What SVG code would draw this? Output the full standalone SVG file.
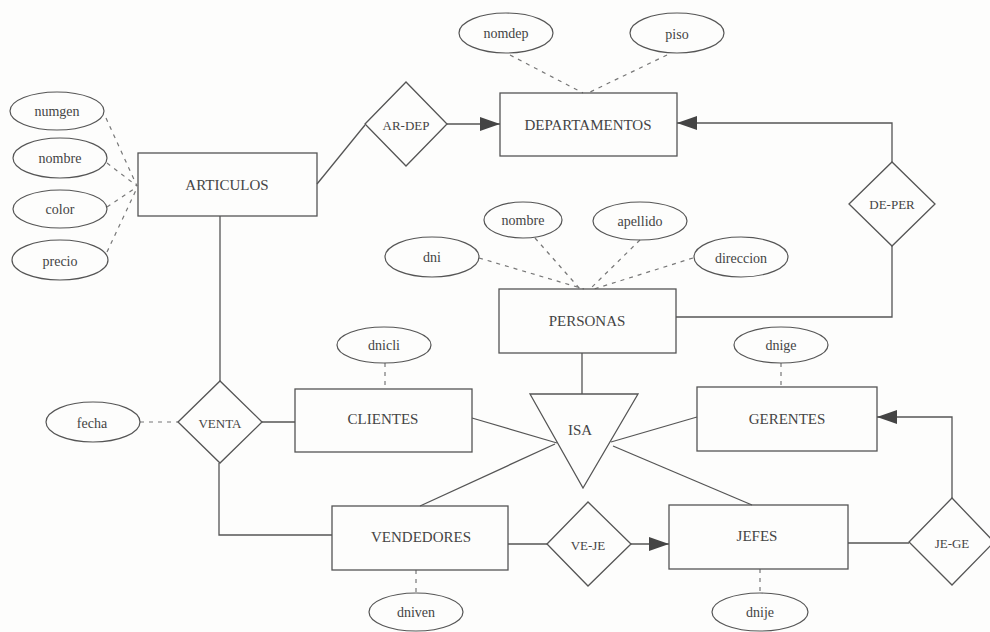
<svg xmlns="http://www.w3.org/2000/svg" width="990" height="632" viewBox="0 0 990 632">
<style>
.bg{fill:#fdfdfc}
.box{fill:none;stroke:#555;stroke-width:1.3}
.ell{fill:none;stroke:#555;stroke-width:1.2}
.ln{fill:none;stroke:#555;stroke-width:1.3}
.dash{fill:none;stroke:#777;stroke-width:1.2;stroke-dasharray:4 5}
text{font-family:"Liberation Serif","Times New Roman",serif;fill:#444;text-anchor:middle;dominant-baseline:central}
.bt{font-size:15px}
.et{font-size:14px}
.dt{font-size:13px}
</style>
<defs>
<marker id="arr" viewBox="0 0 20 14" refX="20" refY="7" markerWidth="20" markerHeight="14" markerUnits="userSpaceOnUse" orient="auto">
<path d="M0,0 L20,7 L0,14 z" fill="#444"/>
</marker>
</defs>
<rect class="bg" x="0" y="0" width="990" height="632"/>

<g id="connectors">
<line class="ln" x1="317" y1="184" x2="365" y2="125"/>
<line class="ln" x1="447" y1="124" x2="500" y2="124" marker-end="url(#arr)"/>
<polyline class="ln" points="892,162 892,123 677,123" marker-end="url(#arr)"/>
<polyline class="ln" points="676,317 892,317 892,246"/>
<line class="ln" x1="220" y1="216" x2="220" y2="381"/>
<line class="ln" x1="262" y1="422" x2="295" y2="422"/>
<polyline class="ln" points="219,463 219,535 332,535"/>
<line class="ln" x1="582" y1="353" x2="582" y2="394"/>
<line class="ln" x1="472" y1="418" x2="557" y2="443"/>
<line class="ln" x1="697" y1="417" x2="611" y2="442"/>
<line class="ln" x1="420" y1="506" x2="555" y2="444"/>
<line class="ln" x1="752" y1="505" x2="613" y2="446"/>
<line class="ln" x1="508" y1="544" x2="547" y2="544"/>
<line class="ln" x1="631" y1="544" x2="669" y2="544" marker-end="url(#arr)"/>
<line class="ln" x1="848" y1="543" x2="909" y2="543"/>
<polyline class="ln" points="952,498 952,417 877,417" marker-end="url(#arr)"/>
<line class="dash" x1="106" y1="118" x2="137" y2="186"/>
<line class="dash" x1="107" y1="163" x2="137" y2="186"/>
<line class="dash" x1="107" y1="207" x2="137" y2="187"/>
<line class="dash" x1="107" y1="252" x2="137" y2="188"/>
<line class="dash" x1="510" y1="55" x2="583" y2="93"/>
<line class="dash" x1="667" y1="55" x2="588" y2="93"/>
<line class="dash" x1="479" y1="258" x2="584" y2="289"/>
<line class="dash" x1="535" y1="238" x2="580" y2="289"/>
<line class="dash" x1="640" y1="240" x2="590" y2="289"/>
<line class="dash" x1="693" y1="258" x2="594" y2="289"/>
<line class="dash" x1="140" y1="422" x2="178" y2="422"/>
<line class="dash" x1="385" y1="363" x2="385" y2="389"/>
<line class="dash" x1="781" y1="363" x2="781" y2="387"/>
<line class="dash" x1="416" y1="570" x2="416" y2="593"/>
<line class="dash" x1="760" y1="569" x2="760" y2="593"/>
</g>

<g id="ARTICULOS"><rect class="box" x="138" y="153" width="179" height="63"/><text class="bt" x="227" y="185">ARTICULOS</text></g>
<g id="DEPARTAMENTOS"><rect class="box" x="500" y="93" width="177" height="63"/><text class="bt" x="588" y="125">DEPARTAMENTOS</text></g>
<g id="PERSONAS"><rect class="box" x="499" y="289" width="177" height="64"/><text class="bt" x="587" y="321">PERSONAS</text></g>
<g id="CLIENTES"><rect class="box" x="295" y="389" width="177" height="63"/><text class="bt" x="383" y="419">CLIENTES</text></g>
<g id="GERENTES"><rect class="box" x="697" y="387" width="180" height="64"/><text class="bt" x="787" y="419">GERENTES</text></g>
<g id="VENDEDORES"><rect class="box" x="332" y="506" width="176" height="64"/><text class="bt" x="421" y="537">VENDEDORES</text></g>
<g id="JEFES"><rect class="box" x="669" y="505" width="179" height="64"/><text class="bt" x="757" y="536">JEFES</text></g>

<g id="AR-DEP"><polygon class="box" points="365,124 406,82 447,124 406,166"/><text class="dt" x="406" y="125">AR-DEP</text></g>
<g id="DE-PER"><polygon class="box" points="849,204 892,162 935,204 892,246"/><text class="dt" x="892" y="204">DE-PER</text></g>
<g id="VENTA"><polygon class="box" points="178,422 220,381 262,422 220,463"/><text class="dt" x="220" y="423">VENTA</text></g>
<g id="VE-JE"><polygon class="box" points="547,544 588,502 631,544 588,586"/><text class="dt" x="588" y="545">VE-JE</text></g>
<g id="JE-GE"><polygon class="box" points="909,542 952,498 994,542 952,585"/><text class="dt" x="952" y="543">JE-GE</text></g>
<g id="ISA"><polygon class="box" points="530,394 638,394 583,488"/><text class="bt" x="580" y="430">ISA</text></g>

<g id="attr-numgen"><ellipse class="ell" cx="57" cy="111" rx="47" ry="19"/><text class="et" x="57" y="111">numgen</text></g>
<g id="attr-nombre-art"><ellipse class="ell" cx="60" cy="158" rx="47" ry="20"/><text class="et" x="60" y="158">nombre</text></g>
<g id="attr-color"><ellipse class="ell" cx="60" cy="209" rx="47" ry="19"/><text class="et" x="60" y="209">color</text></g>
<g id="attr-precio"><ellipse class="ell" cx="60" cy="260" rx="48" ry="20"/><text class="et" x="60" y="261">precio</text></g>
<g id="attr-nomdep"><ellipse class="ell" cx="506" cy="33" rx="47" ry="20"/><text class="et" x="506" y="33">nomdep</text></g>
<g id="attr-piso"><ellipse class="ell" cx="677" cy="33" rx="47" ry="20"/><text class="et" x="677" y="34">piso</text></g>
<g id="attr-nombre-per"><ellipse class="ell" cx="523" cy="220" rx="39" ry="18"/><text class="et" x="523" y="220">nombre</text></g>
<g id="attr-apellido"><ellipse class="ell" cx="640" cy="221" rx="47" ry="19"/><text class="et" x="640" y="221">apellido</text></g>
<g id="attr-dni"><ellipse class="ell" cx="432" cy="257" rx="47" ry="20"/><text class="et" x="432" y="257">dni</text></g>
<g id="attr-direccion"><ellipse class="ell" cx="741" cy="257" rx="47" ry="20"/><text class="et" x="741" y="258">direccion</text></g>
<g id="attr-dnicli"><ellipse class="ell" cx="384" cy="345" rx="47" ry="18"/><text class="et" x="384" y="345">dnicli</text></g>
<g id="attr-dnige"><ellipse class="ell" cx="781" cy="345" rx="47" ry="18"/><text class="et" x="781" y="345">dnige</text></g>
<g id="attr-fecha"><ellipse class="ell" cx="93" cy="422" rx="47" ry="20"/><text class="et" x="92" y="423">fecha</text></g>
<g id="attr-dniven"><ellipse class="ell" cx="416" cy="612" rx="47" ry="19"/><text class="et" x="416" y="612">dniven</text></g>
<g id="attr-dnije"><ellipse class="ell" cx="760" cy="612" rx="48" ry="19"/><text class="et" x="760" y="612">dnije</text></g>
</svg>
